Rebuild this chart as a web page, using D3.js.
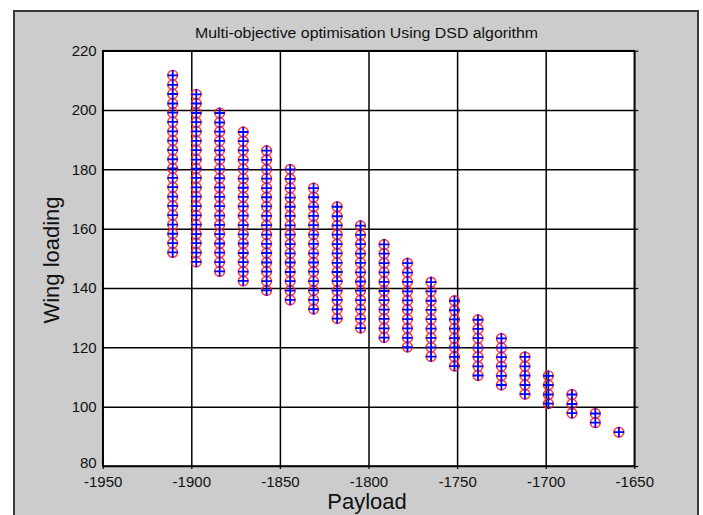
<!DOCTYPE html>
<html>
<head>
<meta charset="utf-8">
<script src="https://cdn.jsdelivr.net/npm/d3@7"></script>
<style>
    html, body { margin: 0; padding: 0; background: #fff; }
    svg { display: block; font-family: "Liberation Sans", Arial, sans-serif; }
</style>
</head>
<body>
<svg id="chart" width="703" height="515"></svg>
<script>
const TITLE = 'Multi-objective optimisation Using DSD algorithm';
const X_LABEL = 'Payload';
const Y_LABEL = 'Wing loading';

const xTicks = [-1950, -1900, -1850, -1800, -1750, -1700, -1650];
const yTicks = [80, 100, 120, 140, 160, 180, 200, 220];

// Payload of each column of solutions
const payload = [
    -1910.5, -1897.2, -1884.0, -1870.7, -1857.5, -1844.2, -1831.0, -1817.7, -1804.5, -1791.2,
    -1778.0, -1764.7, -1751.5, -1738.2, -1725.0, -1711.7, -1698.5, -1685.2, -1672.0, -1658.7,
];

// Wing loading of the solutions in each column, bottom to top
const wingLoading = [
    [152.0, 155.1, 158.3, 161.4, 164.6, 167.7, 170.8, 174.0, 177.1, 180.3, 183.4, 186.5, 189.7, 192.8, 196.0, 199.1, 202.2, 205.4, 208.5, 211.7],
    [148.8, 151.9, 155.1, 158.2, 161.4, 164.5, 167.6, 170.8, 173.9, 177.1, 180.2, 183.3, 186.5, 189.6, 192.8, 195.9, 199.0, 202.2, 205.3],
    [145.6, 148.7, 151.9, 155.0, 158.2, 161.3, 164.4, 167.6, 170.7, 173.9, 177.0, 180.1, 183.3, 186.4, 189.6, 192.7, 195.8, 199.0],
    [142.4, 145.5, 148.7, 151.8, 155.0, 158.1, 161.2, 164.4, 167.5, 170.7, 173.8, 176.9, 180.1, 183.2, 186.4, 189.5, 192.6],
    [139.2, 142.3, 145.5, 148.6, 151.8, 154.9, 158.0, 161.2, 164.3, 167.5, 170.6, 173.7, 176.9, 180.0, 183.2, 186.3],
    [136.0, 139.1, 142.3, 145.4, 148.6, 151.7, 154.8, 158.0, 161.1, 164.3, 167.4, 170.5, 173.7, 176.8, 180.0],
    [132.9, 136.0, 139.2, 142.3, 145.5, 148.6, 151.7, 154.9, 158.0, 161.2, 164.3, 167.4, 170.6, 173.7],
    [129.7, 132.8, 136.0, 139.1, 142.3, 145.4, 148.5, 151.7, 154.8, 158.0, 161.1, 164.2, 167.4],
    [126.5, 129.6, 132.8, 135.9, 139.1, 142.2, 145.3, 148.5, 151.6, 154.8, 157.9, 161.0],
    [123.3, 126.4, 129.6, 132.7, 135.9, 139.0, 142.1, 145.3, 148.4, 151.6, 154.7],
    [120.1, 123.2, 126.4, 129.5, 132.7, 135.8, 138.9, 142.1, 145.2, 148.4],
    [116.9, 120.0, 123.2, 126.3, 129.5, 132.6, 135.7, 138.9, 142.0],
    [113.7, 116.8, 120.0, 123.1, 126.3, 129.4, 132.5, 135.7],
    [110.5, 113.6, 116.8, 119.9, 123.1, 126.2, 129.3],
    [107.3, 110.4, 113.6, 116.7, 119.9, 123.0],
    [104.2, 107.3, 110.5, 113.6, 116.8],
    [101.0, 104.1, 107.3, 110.4],
    [97.8, 100.9, 104.1],
    [94.6, 97.7],
    [91.4],
];

const plot = { left: 102.7, right: 634.3, top: 50.7, bottom: 466 };

const svg = d3.select('#chart');

// Figure background with its frame
svg.append('rect')
    .attr('x', 14).attr('y', 11)
    .attr('width', 684).attr('height', 520)
    .attr('fill', '#cccccc')
    .attr('stroke', '#3a3a3a')
    .attr('stroke-width', 2);

svg.append('rect')
    .attr('x', plot.left).attr('y', plot.top)
    .attr('width', plot.right - plot.left)
    .attr('height', plot.bottom - plot.top)
    .attr('fill', '#fff');

const x = d3.scaleLinear().domain([-1950, -1650]).range([plot.left, plot.right]);
const y = d3.scaleLinear().domain([80, 220]).range([plot.bottom, plot.top]);

const fmt = d => String(d);

// Grid
svg.append('g')
    .attr('class', 'grid')
    .attr('transform', `translate(0,${plot.bottom})`)
    .call(d3.axisBottom(x).tickValues(xTicks).tickSize(-(plot.bottom - plot.top)).tickFormat(''));
svg.append('g')
    .attr('class', 'grid')
    .attr('transform', `translate(${plot.left},0)`)
    .call(d3.axisLeft(y).tickValues(yTicks).tickSize(-(plot.right - plot.left)).tickFormat(''));
svg.selectAll('.grid line').attr('stroke', '#000').attr('stroke-width', 1.5);
svg.selectAll('.grid .domain').remove();

// Tick labels
const xAxis = svg.append('g')
    .attr('transform', `translate(0,${plot.bottom})`)
    .call(d3.axisBottom(x).tickValues(xTicks).tickSize(3).tickPadding(7).tickFormat(fmt));
const yAxis = svg.append('g')
    .attr('transform', `translate(${plot.left},0)`)
    .call(d3.axisLeft(y).tickValues(yTicks).tickSize(0).tickPadding(6).tickFormat(fmt));
const yRight = svg.append('g')
    .attr('transform', `translate(${plot.right},0)`)
    .call(d3.axisRight(y).tickValues(yTicks).tickSize(4).tickFormat(''));

[xAxis, yAxis, yRight].forEach(g => {
    g.select('.domain').remove();
    g.selectAll('line').attr('stroke', '#000').attr('stroke-width', 1.2);
    g.selectAll('text')
        .attr('fill', '#111')
        .style('font-size', '15px')
        .style('font-family', '"Liberation Sans", Arial, sans-serif');
});

// the lowest y label sits just above the -1950 label
yAxis.selectAll('.tick text').filter(d => d === 80).attr('dy', '0.1em');

// Plot box
svg.append('rect')
    .attr('x', plot.left).attr('y', plot.top)
    .attr('width', plot.right - plot.left)
    .attr('height', plot.bottom - plot.top)
    .attr('fill', 'none')
    .attr('stroke', '#000')
    .attr('stroke-width', 1.5);

// Flatten the columns into points
const points = payload.flatMap((p, i) => wingLoading[i].map(w => ({ p, w })));

const gPts = svg.append('g');

gPts.selectAll('circle')
    .data(points)
    .join('circle')
    .attr('cx', d => x(d.p))
    .attr('cy', d => y(d.w))
    .attr('r', 4.8)
    .attr('fill', 'none')
    .attr('stroke', '#ff2020')
    .attr('stroke-opacity', 0.85)
    .attr('stroke-width', 1.7);

const arm = 5.3;
gPts.selectAll('path.plus')
    .data(points)
    .join('path')
    .attr('class', 'plus')
    .attr('d', d => {
        const cx = x(d.p), cy = y(d.w);
        return `M${cx - arm},${cy}H${cx + arm}M${cx},${cy - arm}V${cy + arm}`;
    })
    .attr('stroke', '#0000ff')
    .attr('stroke-width', 1.8)
    .attr('fill', 'none');

// Title and axis labels
svg.append('text')
    .attr('x', 366.5).attr('y', 37.5)
    .attr('text-anchor', 'middle')
    .attr('textLength', 343)
    .attr('lengthAdjust', 'spacingAndGlyphs')
    .style('font-size', '14px')
    .attr('fill', '#111')
    .text(TITLE);

svg.append('text')
    .attr('x', 367).attr('y', 509)
    .attr('text-anchor', 'middle')
    .style('font-size', '22px')
    .attr('fill', '#111')
    .text(X_LABEL);

svg.append('text')
    .attr('transform', 'translate(59,260) rotate(-90)')
    .attr('text-anchor', 'middle')
    .style('font-size', '22px')
    .attr('fill', '#111')
    .text(Y_LABEL);
</script>
</body>
</html>
